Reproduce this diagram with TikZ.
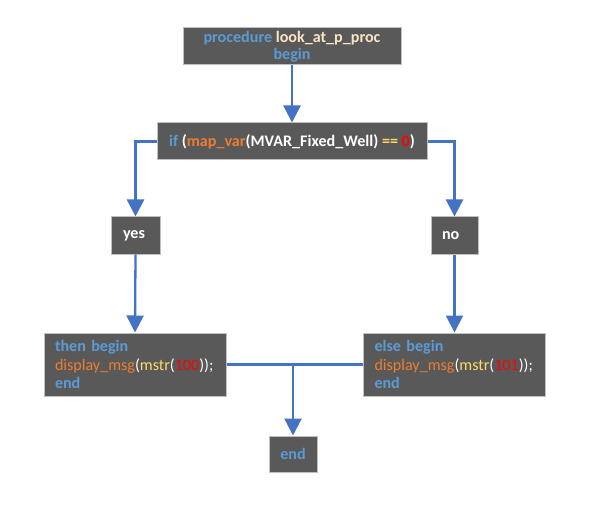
\documentclass[tikz,border=0pt]{standalone}
\usepackage{fontspec}
\setmainfont{Carlito}
\usetikzlibrary{arrows.meta}
\definecolor{boxfill}{HTML}{595959}
\definecolor{boxline}{HTML}{BFBFBF}
\definecolor{kw}{HTML}{5B9BD5}
\definecolor{fn}{HTML}{ED7D31}
\definecolor{yl}{HTML}{FFD966}
\definecolor{pc}{HTML}{FBE3C4}
\definecolor{num}{HTML}{FF0000}
\definecolor{arr}{HTML}{4472C4}
\tikzset{
  box/.style={draw=boxline, fill=boxfill, line width=1pt, inner sep=0pt, text=white,
    font=\fontsize{16.1}{18.7}\selectfont},
  conn/.style={draw=arr, line width=2.3pt},
  arrowed/.style={conn, -{Triangle[width=17pt,length=17pt]}},
}
\begin{document}
\begin{tikzpicture}[x=1pt,y=-1pt]
\useasboundingbox (0,0) rectangle (603,508);
\node[box, minimum width=218pt, minimum height=37pt, align=center, font=\fontsize{16.1}{17.5}\selectfont\bfseries]
  (proc) at (292,46.5) {{\color{kw}procedure} {\color{pc}look\_at\_p\_proc}\\{\color{kw}begin}};
\node[box, minimum width=270pt, minimum height=37pt, align=center, font=\fontsize{16.1}{18.7}\selectfont\bfseries]
  (cond) at (292,141.5) {{\color{kw}if} ({\color{fn}map\_var}(MVAR\_Fixed\_Well) {\color{yl}==} {\color{num}0})};
\node[box, minimum height=37pt, text width=25pt, inner xsep=12pt, align=left, font=\fontsize{16.1}{18.7}\selectfont\bfseries]
  (yes) at (135.5,235.5) {yes};
\node[box, minimum height=37pt, text width=25pt, inner xsep=11pt, align=left, font=\fontsize{16.1}{18.7}\selectfont\bfseries]
  (no) at (454.5,235.5) {no};
\node[box, minimum height=63pt, text width=160pt, inner xsep=11pt, align=left]
  (then) at (135,364.5) {{\bfseries\color{kw}then begin}\\{\color{fn}display\_msg}({\color{yl}mstr}({\color{num}100}));\\{\bfseries\color{kw}end}};
\node[box, minimum height=63pt, text width=160pt, inner xsep=11pt, align=left]
  (else) at (454.5,364.5) {{\bfseries\color{kw}else begin}\\{\color{fn}display\_msg}({\color{yl}mstr}({\color{num}101}));\\{\bfseries\color{kw}end}};
\node[box, minimum width=48pt, minimum height=36pt, align=center, font=\fontsize{16.1}{18.7}\selectfont\bfseries]
  (fin) at (293,454) {\color{kw}end};
\draw[arrowed] (proc.south) -- (cond.north);
\draw[arrowed] (cond.west) -| (yes.north);
\draw[arrowed] (cond.east) -| (no.north);
\draw[arrowed] (yes.south) -- (then.north);
\draw[arrowed] (no.south) -- (else.north);
\draw[conn] (then.east) -- (else.west);
\coordinate (join) at (then.east -| fin.north);
\draw[arrowed] (join) -- (fin.north);
\end{tikzpicture}
\end{document}
